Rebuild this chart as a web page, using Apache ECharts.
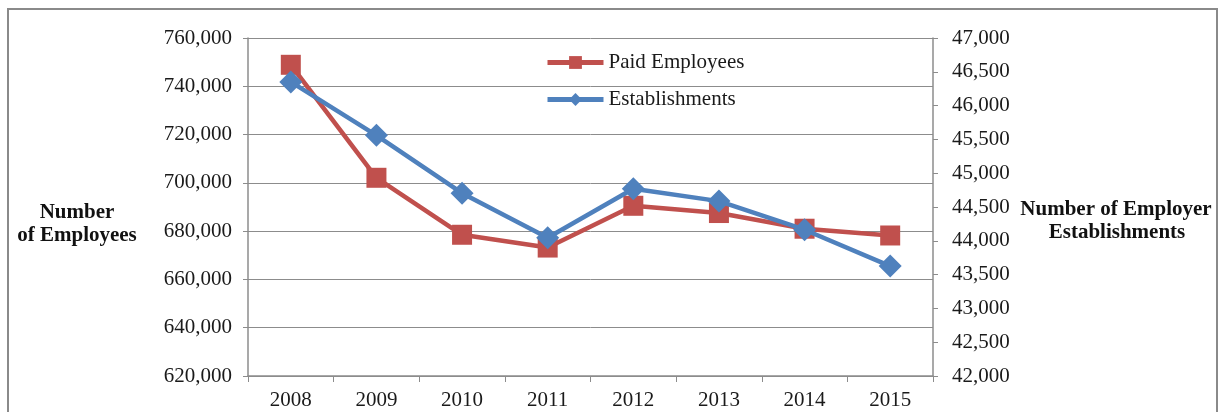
<!DOCTYPE html>
<html>
<head>
<meta charset="utf-8">
<script src="https://cdn.jsdelivr.net/npm/echarts@6/dist/echarts.min.js"></script>
<style>
html,body{margin:0;padding:0;background:#fff;}
#chart{width:1221px;height:412px;}
</style>
</head>
<body>
<div id="chart"></div>
<script>
const years = ['2008','2009','2010','2011','2012','2013','2014','2015'];
const paidEmployees = [748900, 702100, 678500, 673200, 690500, 687500, 681000, 678200];
const establishments = [46350, 45560, 44705, 44046, 44770, 44587, 44164, 43626];
const leftTitle = ['Number', 'of Employees'];
const rightTitle = ['Number of Employer', 'Establishments'];
const seriesNames = ['Paid Employees', 'Establishments'];

const FONT = '"Liberation Serif", "Times New Roman", serif';
const fmt = v => Math.round(v).toLocaleString('en-US');
const gridCol = '#8c8c8c';
const txtCol = '#1a1a1a';

const chart = echarts.init(document.getElementById('chart'), null, {renderer: 'canvas'});
chart.setOption({
  animation: false,
  backgroundColor: '#ffffff',
  grid: {left: 248, right: 288, top: 38, bottom: 36, containLabel: false},
  legend: {
    orient: 'vertical',
    left: 545, top: 52, padding: 0,
    itemWidth: 56, itemHeight: 16, itemGap: 16,
    lineStyle: {width: 5},
    textStyle: {fontFamily: FONT, fontSize: 21, lineHeight: 21, color: txtCol},
    data: seriesNames
  },
  xAxis: {
    type: 'category',
    data: years,
    boundaryGap: true,
    axisLine: {lineStyle: {color: gridCol, width: 1.5}},
    axisTick: {show: true, length: 6, alignWithLabel: false, lineStyle: {color: gridCol}},
    axisLabel: {fontFamily: FONT, fontSize: 21, color: txtCol, margin: 14}
  },
  yAxis: [{
    type: 'value', min: 620000, max: 760000, interval: 20000,
    position: 'left',
    axisLine: {show: true, lineStyle: {color: gridCol, width: 1.5}},
    axisTick: {show: true, length: 5, lineStyle: {color: gridCol}},
    splitLine: {show: true, lineStyle: {color: gridCol, width: 1}},
    axisLabel: {fontFamily: FONT, fontSize: 21, color: txtCol, margin: 16, formatter: fmt}
  }, {
    type: 'value', min: 42000, max: 47000, interval: 500,
    position: 'right',
    axisLine: {show: true, lineStyle: {color: gridCol, width: 1.5}},
    axisTick: {show: true, length: 5, lineStyle: {color: gridCol}},
    splitLine: {show: false},
    axisLabel: {fontFamily: FONT, fontSize: 21, color: txtCol, margin: 19, formatter: fmt}
  }],
  graphic: [
    {type: 'rect', shape: {x: 8, y: 9, width: 1209, height: 420}, style: {fill: 'none', stroke: '#8a8a8a', lineWidth: 2}, silent: true},
    {type: 'text', x: 77, y: 213, style: {text: leftTitle[0], font: 'bold 21px ' + FONT, fill: '#111', textAlign: 'center', textVerticalAlign: 'middle'}},
    {type: 'text', x: 77, y: 236, style: {text: leftTitle[1], font: 'bold 21px ' + FONT, fill: '#111', textAlign: 'center', textVerticalAlign: 'middle'}},
    {type: 'text', x: 1116, y: 210, style: {text: rightTitle[0], font: 'bold 21px ' + FONT, fill: '#111', textAlign: 'center', textVerticalAlign: 'middle'}},
    {type: 'text', x: 1117, y: 233, style: {text: rightTitle[1], font: 'bold 21px ' + FONT, fill: '#111', textAlign: 'center', textVerticalAlign: 'middle'}}
  ],
  series: [{
    name: seriesNames[0],
    type: 'line',
    yAxisIndex: 0,
    data: paidEmployees,
    symbol: 'rect', symbolSize: 20,
    lineStyle: {color: '#C0504D', width: 4.5},
    itemStyle: {color: '#C0504D'},
    z: 2
  }, {
    name: seriesNames[1],
    type: 'line',
    yAxisIndex: 1,
    data: establishments,
    symbol: 'diamond', symbolSize: 23,
    lineStyle: {color: '#4F81BD', width: 4.5},
    itemStyle: {color: '#4F81BD'},
    z: 3
  }]
});
</script>
</body>
</html>
